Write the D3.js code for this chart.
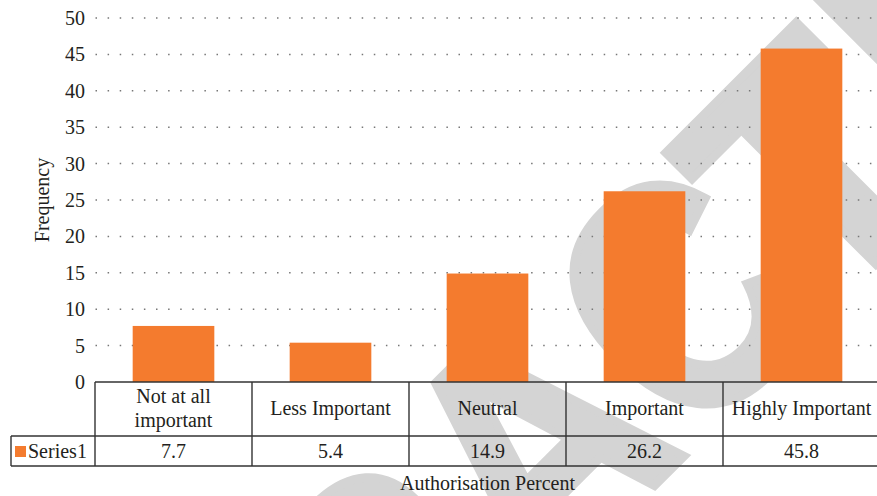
<!DOCTYPE html>
<html>
<head>
<meta charset="utf-8">
<script src="https://cdn.jsdelivr.net/npm/d3@7"></script>
<style>
  body { margin: 0; background: #fff; }
  svg { display: block; }
  text { font-family: "Liberation Serif", "Times New Roman", serif; fill: #231f20; }
</style>
</head>
<body>
<svg id="chart" width="877" height="496"></svg>
<script>
'use strict';
var categories, series1, yTicks, seriesName, watermark;

categories = ['Not at all\nimportant', 'Less Important', 'Neutral', 'Important', 'Highly Important'];
series1 = [7.7, 5.4, 14.9, 26.2, 45.8];
yTicks = [0, 5, 10, 15, 20, 25, 30, 35, 40, 45, 50];
seriesName = 'Series1';
watermark = ['R', 'A', 'C', 'T', 'E', 'D'];

(function() {
  var svg = d3.select('#chart');
  var plotLeft = 95, plotRight = 880, plotTop = 18, plotBottom = 382;
  var rowSplit = 436, tableBottom = 466, legendLeft = 11;
  var orange = '#f47b2e', line = '#333';

  // watermark sits under everything, one glyph at a time so the spacing can be tuned
  var wmCenter = [-150, 62, 270, 455, 658, 862];
  var wmSquash = [0.9, 0.9, 0.83, 0.95, 0.9, 0.9];
  svg.append('g').attr('transform', 'rotate(-45)')
    .selectAll('text').data(watermark).join('text')
    .attr('transform', function(d, i) { return 'translate(' + wmCenter[i] + ',806) scale(' + wmSquash[i] + ',1)'; })
    .attr('text-anchor', 'middle')
    .style('font-family', '"Liberation Sans", Arial, sans-serif')
    .style('font-weight', 'bold')
    .style('font-size', '330px')
    .style('fill', '#d4d4d4')
    .style('stroke', '#d4d4d4')
    .style('stroke-width', 9)
    .style('stroke-linejoin', 'miter')
    .text(function(d) { return d; });

  var x = d3.scaleBand().domain(categories).range([plotLeft, plotRight]).paddingInner(0.48).paddingOuter(0.24);
  var xCell = d3.scaleBand().domain(categories).range([plotLeft, plotRight]);
  var y = d3.scaleLinear().domain([0, 50]).range([plotBottom, plotTop]);

  // dotted grid
  svg.append('g').selectAll('line').data(yTicks.filter(function(d) { return d > 0; })).join('line')
    .attr('x1', plotLeft + 0.5).attr('x2', plotRight)
    .attr('y1', function(d) { return y(d); }).attr('y2', function(d) { return y(d); })
    .attr('stroke', '#777').attr('stroke-width', 1.5)
    .attr('stroke-dasharray', '1.5,10.6');

  var yAxis = svg.append('g').attr('transform', 'translate(' + plotLeft + ',0)')
    .call(d3.axisLeft(y).tickValues(yTicks).tickSize(0).tickPadding(10));
  yAxis.select('.domain').remove();
  yAxis.selectAll('text').style('font-family', '"Liberation Serif", serif').style('font-size', '20px').attr('fill', '#231f20');

  svg.append('g').selectAll('rect').data(series1).join('rect')
    .attr('x', function(d, i) { return x(categories[i]); })
    .attr('width', x.bandwidth())
    .attr('y', function(d) { return y(d); })
    .attr('height', function(d) { return y(0) - y(d); })
    .attr('fill', orange);

  // data table
  var t = svg.append('g').attr('stroke', line).attr('stroke-width', 1.4);
  t.append('line').attr('x1', plotLeft).attr('x2', plotRight).attr('y1', plotBottom).attr('y2', plotBottom);
  t.append('line').attr('x1', legendLeft).attr('x2', plotRight).attr('y1', rowSplit).attr('y2', rowSplit);
  t.append('line').attr('x1', legendLeft).attr('x2', plotRight).attr('y1', tableBottom).attr('y2', tableBottom);
  t.append('line').attr('x1', legendLeft).attr('x2', legendLeft).attr('y1', rowSplit).attr('y2', tableBottom);
  t.selectAll('.col').data(categories).join('line').attr('class', 'col')
    .attr('x1', function(d) { return xCell(d); }).attr('x2', function(d) { return xCell(d); })
    .attr('y1', plotBottom).attr('y2', tableBottom);

  var labels = svg.append('g').style('font-size', '20px').attr('text-anchor', 'middle');
  labels.selectAll('text').data(categories).join('text')
    .attr('x', function(d) { return xCell(d) + xCell.bandwidth() / 2; })
    .attr('y', function(d) { return d.indexOf('\n') >= 0 ? 403 : 415; })
    .each(function(d) {
      var parts = d.split('\n'), el = d3.select(this);
      parts.forEach(function(p, i) {
        el.append('tspan').attr('x', el.attr('x')).attr('dy', i ? 24 : 0).text(p);
      });
    });

  svg.append('g').style('font-size', '20px').attr('text-anchor', 'middle')
    .selectAll('text').data(series1).join('text')
    .attr('x', function(d, i) { return xCell(categories[i]) + xCell.bandwidth() / 2; })
    .attr('y', 458)
    .text(function(d) { return d3.format('.1f')(d); });

  svg.append('rect').attr('x', 15).attr('y', 446).attr('width', 11).attr('height', 11).attr('fill', orange);
  svg.append('text').attr('x', 28).attr('y', 458).style('font-size', '20px').text(seriesName);

  svg.append('text').attr('x', (plotLeft + plotRight) / 2).attr('y', 490).attr('text-anchor', 'middle')
    .style('font-size', '20px').text('Authorisation Percent');

  svg.append('text').attr('transform', 'translate(49,' + ((plotTop + plotBottom) / 2) + ') rotate(-90)')
    .attr('text-anchor', 'middle').style('font-size', '20px').text('Frequency');
})();
</script>
</body>
</html>
